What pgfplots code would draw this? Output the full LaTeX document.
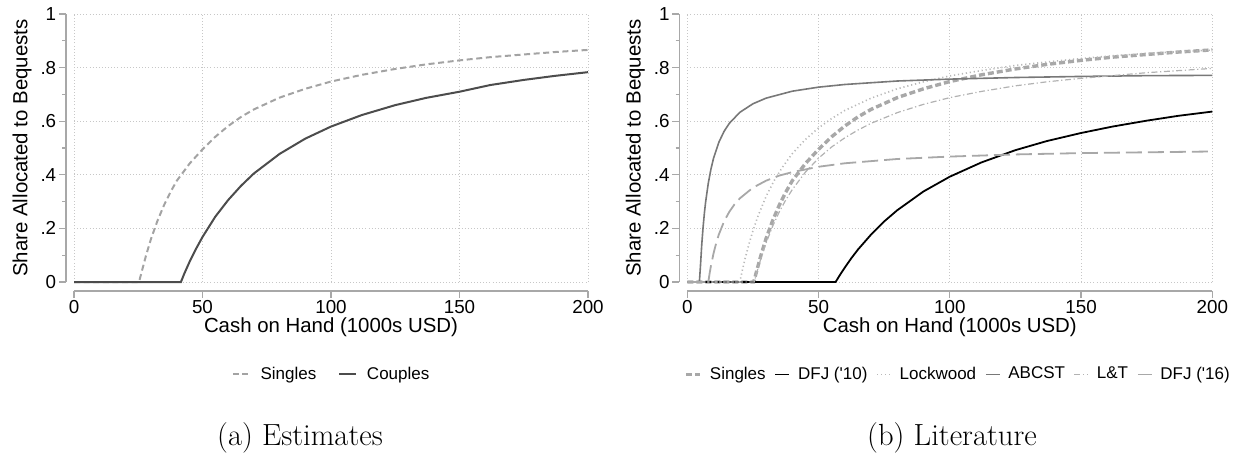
\documentclass[border=0pt]{standalone}
\usepackage{fontspec}
\usepackage{pgfplots}
\pgfplotsset{compat=1.18}
\newfontfamily\arial{Liberation Sans}

\definecolor{spine}{gray}{0.66}
\definecolor{gridc}{gray}{0.78}
\definecolor{singlesL}{gray}{0.64}
\definecolor{couples}{gray}{0.30}
\definecolor{singlesR}{gray}{0.66}
\definecolor{lockwood}{gray}{0.72}
\definecolor{abcst}{gray}{0.47}
\definecolor{lt}{gray}{0.70}
\definecolor{dfjsix}{gray}{0.66}

% Stata-like look shared by both panels
\pgfplotsset{stata/.style={
  scale only axis, height=134pt,
  xmin=0, xmax=200, ymin=0, ymax=1,
  axis lines*=left,
  axis x line shift=4.5pt, axis y line shift=4pt,
  axis line style={draw=spine, line width=0.65pt, -},
  xtick={0,50,100,150,200},
  ytick={0,0.2,0.4,0.6,0.8,1}, yticklabels={0,.2,.4,.6,.8,1},
  minor ytick={0.1,0.3,0.5,0.7,0.9},
  tick align=outside, major tick length=3.5pt, minor tick length=1.8pt,
  every tick/.style={draw=spine, line width=0.65pt},
  grid=major,
  major grid style={draw=gridc, line width=0.45pt, dash pattern=on 0.45pt off 1.1pt},
  /pgf/number format/assume math mode=true,
  tick label style={font=\arial\fontsize{9.4}{11}\selectfont, inner sep=1.2pt},
  label style={font=\arial\fontsize{10.2}{12}\selectfont},
  xlabel={Cash on Hand (1000s USD)},
  ylabel={Share Allocated to Bequests},
  clip=false,
  legend columns=-1,
  legend style={draw=none, fill=none, anchor=center,
    font=\arial\fontsize{8.5}{10}\selectfont, nodes={inner sep=0.4pt}},
}}

\begin{document}
\begin{tikzpicture}[x=1pt,y=1pt]
\useasboundingbox (0,0) rectangle (618.5,228);

% ---------------- (a) Estimates ----------------
\begin{axis}[stata, width=257pt, at={(37pt,87pt)}, anchor=south west,
  xlabel style={at={(axis description cs:0.5,-0.168)}, anchor=center},
  ylabel style={at={(axis description cs:-0.101,0.5)}, anchor=center},
  legend style={at={(0.5,-0.345)},
    /tikz/every odd column/.append style={column sep=4.5pt},
    /tikz/every even column/.append style={column sep=10.5pt}},
  legend image code/.code={\draw[#1] (0pt,0pt) -- (8.5pt,0pt);},
]
\addplot[singlesL, line width=1pt, dash pattern=on 3pt off 1.8pt] coordinates {
 (0,0)(25.3,0)(26.5,0.044)(28,0.098)(30,0.162)(32.5,0.229)(35,0.286)(37.5,0.335)
 (40,0.378)(45,0.442)(50,0.495)(55,0.542)(60,0.582)(65,0.616)(70,0.644)(80,0.688)
 (90,0.721)(100,0.748)(112,0.773)(125,0.795)(137,0.812)(150,0.827)(162,0.839)
 (175,0.849)(187,0.858)(200,0.866)};
\addlegendentry{Singles}
\addplot[couples, line width=1pt] coordinates {
 (0,0)(41.6,0)(43,0.033)(45,0.076)(47.5,0.124)(50,0.168)(55,0.244)(60,0.306)
 (65,0.359)(70,0.405)(80,0.478)(90,0.535)(100,0.580)(112,0.623)(125,0.660)
 (137,0.687)(150,0.710)(162,0.735)(175,0.754)(187,0.769)(200,0.783)};
\addlegendentry{Couples}
\end{axis}

% ---------------- (b) Literature ----------------
\begin{axis}[stata, width=262.5pt, at={(343.65pt,87pt)}, anchor=south west,
  xlabel style={at={(axis description cs:0.5,-0.168)}, anchor=center},
  ylabel style={at={(axis description cs:-0.099,0.5)}, anchor=center},
  legend style={at={(0.515,-0.345)},
    /tikz/every odd column/.append style={column sep=3.5pt},
    /tikz/every even column/.append style={column sep=4pt}},
  legend image code/.code={\draw[#1] (0pt,0pt) -- (7pt,0pt);},
]
\addplot[singlesR, line width=1.7pt, dash pattern=on 3pt off 1.5pt] coordinates {
 (0,0)(25.3,0)(26.5,0.044)(28,0.098)(30,0.162)(32.5,0.229)(35,0.286)(37.5,0.335)
 (40,0.378)(45,0.442)(50,0.495)(55,0.542)(60,0.582)(65,0.616)(70,0.644)(80,0.688)
 (90,0.721)(100,0.748)(112,0.773)(125,0.795)(137,0.812)(150,0.827)(162,0.839)
 (175,0.849)(187,0.858)(200,0.866)};
\addlegendentry{Singles}
\addplot[black, line width=0.9pt] coordinates {
 (0,0)(56.5,0)(58,0.024)(60,0.054)(62.5,0.089)(65,0.121)(70,0.177)(75,0.226)
 (80,0.268)(90,0.338)(100,0.393)(112,0.446)(125,0.492)(137,0.526)(150,0.556)
 (162,0.580)(175,0.602)(187,0.620)(200,0.636)};
\addlegendentry{DFJ (\textquotesingle10)}
\addplot[lockwood, line width=0.8pt, dash pattern=on 0.6pt off 1.4pt] coordinates {
 (0,0)(20,0)(21,0.045)(22,0.087)(23.5,0.142)(25,0.191)(27,0.248)(30,0.319)
 (33,0.377)(36,0.425)(40,0.479)(45,0.532)(50,0.575)(55,0.610)(60,0.640)(70,0.686)
 (80,0.721)(90,0.747)(100,0.769)(112,0.789)(125,0.808)(137,0.821)(150,0.834)
 (162,0.844)(175,0.853)(187,0.859)(200,0.866)};
\addlegendentry{Lockwood}
\addplot[abcst, line width=0.8pt] coordinates {
 (0,0)(4.6,0)(5,0.058)(5.5,0.139)(6,0.203)(6.5,0.256)(7,0.300)(8,0.369)(9,0.421)
 (10,0.462)(12,0.521)(14,0.562)(16,0.592)(20,0.633)(25,0.665)(30,0.686)(40,0.712)
 (50,0.727)(60,0.737)(80,0.750)(100,0.757)(125,0.763)(150,0.767)(175,0.770)(200,0.771)};
\addlegendentry{ABCST}
\addplot[lt, line width=0.6pt, dash pattern=on 3pt off 1.3pt on 0.6pt off 1.3pt] coordinates {
 (0,0)(25.5,0)(26.5,0.037)(28,0.087)(30,0.145)(32.5,0.208)(35,0.261)(37.5,0.306)
 (40,0.345)(45,0.410)(50,0.462)(55,0.504)(60,0.538)(65,0.567)(70,0.592)(80,0.632)
 (90,0.663)(100,0.688)(112,0.711)(125,0.732)(137,0.747)(150,0.760)(175,0.781)(200,0.797)};
\addlegendentry{L\&T}
\addplot[dfjsix, line width=0.9pt, dash pattern=on 8pt off 3pt] coordinates {
 (0,0)(8,0)(8.5,0.032)(9,0.060)(10,0.107)(11,0.145)(12,0.177)(14,0.226)(16,0.262)
 (18,0.290)(20,0.312)(25,0.352)(30,0.378)(35,0.397)(40,0.410)(50,0.430)(60,0.443)
 (80,0.459)(100,0.468)(125,0.476)(150,0.481)(175,0.484)(200,0.487)};
\addlegendentry{DFJ (\textquotesingle16)}
\end{axis}

\node[anchor=base, font=\fontsize{15.3}{18}\selectfont] at (150,5.5) {(a) Estimates};
\node[anchor=base, font=\fontsize{15.3}{18}\selectfont] at (476,5.5) {(b) Literature};
\end{tikzpicture}
\end{document}
